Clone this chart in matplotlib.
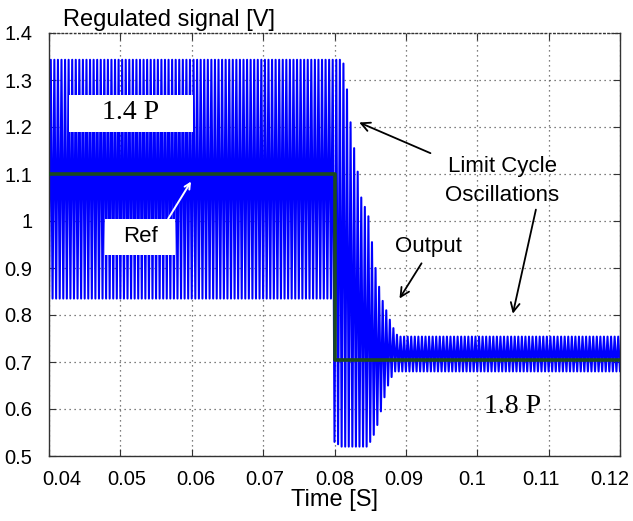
import numpy as np
import matplotlib
matplotlib.use("Agg")
import matplotlib.pyplot as plt
from matplotlib.patches import Rectangle
from matplotlib.transforms import ScaledTranslation

# ---------------- data ----------------
period = 0.0005                    # oscillation period [s]
t_start, t_step, t_end = 0.04, 0.08, 0.12

# limit cycle before the step (1.4 P)
pre_upper, pre_lower = 1.343, 0.835

# transient after the step: per-cycle peaks (upper) and troughs (lower)
trans_upper = [1.343, 1.343, 1.335, 1.280, 1.210, 1.155, 1.105, 1.050, 1.030,
               1.010, 0.955, 0.900, 0.860, 0.830, 0.810, 0.790, 0.772, 0.758]
trans_lower = [0.530, 0.525, 0.520, 0.520, 0.520, 0.520, 0.520, 0.520, 0.520,
               0.520, 0.530, 0.545, 0.566, 0.595, 0.625, 0.650, 0.668, 0.680]

# limit cycle after the transient (1.8 P)
post_upper, post_lower = 0.754, 0.680

# reference signal
ref_times = [0.04, 0.08, 0.08, 0.12]
ref_values = [1.10, 1.10, 0.705, 0.705]

xticks = [0.04, 0.05, 0.06, 0.07, 0.08, 0.09, 0.10, 0.11, 0.12]
xticklabels = ["0.04", "0.05", "0.06", "0.07", "0.08", "0.09", "0.1", "0.11", "0.12"]
yticks = [0.5, 0.6, 0.7, 0.8, 0.9, 1.0, 1.1, 1.2, 1.3, 1.4]
yticklabels = ["0.5", "0.6", "0.7", "0.8", "0.9", "1", "1.1", "1.2", "1.3", "1.4"]

# ---------------- build the oscillating output ----------------
ts, vs = [], []
t = t_start
while t < t_step - 1e-9:
    ts += [t, t + period / 2]
    vs += [pre_lower, pre_upper]
    t += period
t = t_step
for up, lo in zip(trans_upper, trans_lower):
    ts += [t, t + period / 2]
    vs += [lo, up]
    t += period
while t <= t_end + 1e-9:
    ts += [t, t + period / 2]
    vs += [post_lower, post_upper]
    t += period

# ---------------- figure ----------------
plt.rcParams['font.family'] = ['Liberation Sans', 'DejaVu Sans']
fig = plt.figure(figsize=(6.33, 5.21), dpi=100)
ax = fig.add_axes([49 / 633, 1 - 456 / 521, 571 / 633, 423 / 521])

ax.plot(ts, vs, color='#0000ff', lw=1.5, zorder=2)
ax.plot(ref_times, ref_values, color='#1c4a1c', lw=2.6, zorder=3)

ax.set_xlim(0.04, 0.12)
ax.set_ylim(0.5, 1.4)
ax.set_xticks(xticks)
ax.set_xticklabels(xticklabels)
ax.set_yticks(yticks)
ax.set_yticklabels(yticklabels)
ax.tick_params(direction='in', top=True, right=True, length=5,
               labelsize=14.5, color='#333333')
ax.tick_params(axis='x', pad=10)
ax.tick_params(axis='y', pad=12)
ax.grid(True, linestyle=(0, (1, 3)), color='#555555', lw=0.9, zorder=1)
ax.set_axisbelow(True)
for s in ax.spines.values():
    s.set_color('#333333')
    s.set_linewidth(1.0)
ax.spines['top'].set_linestyle((0, (1, 2)))

# the x tick labels sit slightly inward from their ticks, as in the original
label_shift_px = [13, 6, 4, 2, 0, -2, -5, -8, -10]
for lbl, dx in zip(ax.get_xticklabels(), label_shift_px):
    lbl.set_transform(lbl.get_transform() +
                      ScaledTranslation(dx / 100, 0, fig.dpi_scale_trans))

ax.set_xlabel('Time [S]', fontsize=17, labelpad=0)
ax.text(0.024, 1.004, 'Regulated signal [V]', transform=ax.transAxes,
        fontsize=17, ha='left', va='bottom')

# text labels
ax.add_patch(Rectangle((0.0428, 1.190), 0.0174, 0.078, facecolor='white',
                       edgecolor='none', zorder=4))
ax.text(0.0514, 1.230, '1.4 P', fontsize=20, family='Liberation Serif',
        ha='center', va='center', zorder=5)
ax.text(0.1049, 0.606, '1.8 P', fontsize=20, family='Liberation Serif',
        ha='center', va='center', zorder=5)
ax.add_patch(Rectangle((0.0479, 0.928), 0.0098, 0.076, facecolor='white',
                       edgecolor='none', zorder=4))
ax.text(0.0528, 0.966, 'Ref', fontsize=16, ha='center', va='center', zorder=5)
ax.annotate('', xy=(0.0601, 1.089), xytext=(0.0565, 1.000),
            arrowprops=dict(arrowstyle='->', color='white', lw=1.4), zorder=6)

ax.text(0.1035, 1.085, 'Limit Cycle\nOscillations', fontsize=16,
        ha='center', va='center', linespacing=1.5, zorder=5)
ax.annotate('', xy=(0.0831, 1.212), xytext=(0.0938, 1.142),
            arrowprops=dict(arrowstyle='->', color='black', lw=1.3,
                            mutation_scale=16), zorder=6)
ax.annotate('', xy=(0.1049, 0.797), xytext=(0.1083, 1.030),
            arrowprops=dict(arrowstyle='->', color='black', lw=1.3,
                            mutation_scale=16), zorder=6)

ax.text(0.0931, 0.945, 'Output', fontsize=16, ha='center', va='center', zorder=5)
ax.annotate('', xy=(0.0889, 0.830), xytext=(0.0924, 0.915),
            arrowprops=dict(arrowstyle='->', color='black', lw=1.3,
                            mutation_scale=16), zorder=6)

fig.savefig('out.png', dpi=100)
